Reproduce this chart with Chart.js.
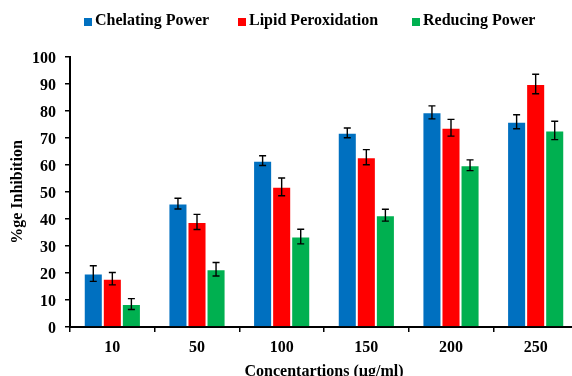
<!DOCTYPE html>
<html>
<head>
<meta charset="utf-8">
<script src="https://cdn.jsdelivr.net/npm/chart.js@4.4.0/dist/chart.umd.min.js"></script>
<style>
  html, body { margin: 0; padding: 0; background: #fff; }
  #wrap { width: 572px; height: 376px; overflow: hidden; }
</style>
</head>
<body>
<div id="wrap"><canvas id="myChart" width="580" height="390"></canvas></div>
<script>
// data
const categories = ['10', '50', '100', '150', '200', '250'];
const chelating = [19.8, 45.7, 61.6, 71.9, 79.5, 76.0];
const chelatingErr = [2.9, 2.0, 1.8, 1.8, 2.4, 2.6];
const lipid = [17.9, 38.9, 51.9, 62.9, 73.8, 90.0];
const lipidErr = [2.3, 2.8, 3.3, 2.8, 3.1, 3.6];
const reducing = [8.5, 21.4, 33.5, 41.4, 59.9, 72.8];
const reducingErr = [2.0, 2.5, 2.7, 2.2, 2.0, 3.4];

const FONT = '"Liberation Serif", "Times New Roman", serif';
Chart.defaults.font.family = FONT;
Chart.defaults.font.size = 16;
Chart.defaults.font.weight = 'bold';
Chart.defaults.color = '#000';

// error bars, drawn on top of the bars
const errorBars = {
    id: 'errorBars',
    afterDatasetsDraw(chart) {
        const ctx = chart.ctx;
        const y = chart.scales.y;
        ctx.save();
        ctx.strokeStyle = '#000';
        ctx.lineWidth = 1.4;
        chart.data.datasets.forEach((ds, i) => {
            chart.getDatasetMeta(i).data.forEach((bar, j) => {
                const top = y.getPixelForValue(ds.data[j] + ds.errors[j]);
                const bot = y.getPixelForValue(ds.data[j] - ds.errors[j]);
                ctx.beginPath();
                ctx.moveTo(bar.x, top); ctx.lineTo(bar.x, bot);
                ctx.moveTo(bar.x - 3.5, top); ctx.lineTo(bar.x + 3.5, top);
                ctx.moveTo(bar.x - 3.5, bot); ctx.lineTo(bar.x + 3.5, bot);
                ctx.stroke();
            });
        });
        ctx.restore();
    }
};

// legend row at the top, like the Excel one
const topLegend = {
    id: 'topLegend',
    afterDraw(chart) {
        const ctx = chart.ctx;
        const boxX = [84, 238, 412];
        ctx.save();
        ctx.font = 'bold 16px ' + FONT;
        ctx.textBaseline = 'middle';
        chart.data.datasets.forEach((ds, i) => {
            ctx.fillStyle = ds.backgroundColor;
            ctx.fillRect(boxX[i], 18, 8, 8);
            ctx.fillStyle = '#000';
            ctx.fillText(ds.label, boxX[i] + 11, 20.5);
        });
        ctx.restore();
    }
};

const ctx = document.getElementById('myChart');

new Chart(ctx, {
    type: 'bar',
    data: {
        labels: categories,
        datasets: [{
            label: 'Chelating Power',
            data: chelating,
            errors: chelatingErr,
            backgroundColor: '#0070C0',
            borderColor: 'rgba(255, 255, 255, 0.2)',
            borderWidth: 1
        }, {
            label: 'Lipid Peroxidation',
            data: lipid,
            errors: lipidErr,
            backgroundColor: '#FF0000',
            borderColor: 'rgba(255, 255, 255, 0.2)',
            borderWidth: 1
        }, {
            label: 'Reducing Power',
            data: reducing,
            errors: reducingErr,
            backgroundColor: '#00B050',
            borderColor: 'rgba(255, 255, 255, 0.2)',
            borderWidth: 1
        }]
    },
    options: {
        responsive: false,
        animation: false,
        layout: { padding: { top: 57, right: 2, left: 0, bottom: 0 } },
        datasets: {
            bar: { categoryPercentage: 0.675, barPercentage: 1 }
        },
        plugins: {
            legend: { display: false },
            tooltip: { enabled: false }
        },
        scales: {
            x: {
                offset: true,
                grid: {
                    offset: true,
                    drawOnChartArea: false,
                    tickLength: 5,
                    color: '#000',
                    lineWidth: 1.5
                },
                border: { color: '#000', width: 2 },
                ticks: { padding: 6 },
                title: {
                    display: true,
                    text: 'Concentartions (µg/ml)',
                    padding: { top: 0, bottom: 9 }
                },
                afterFit: (scale) => { scale.height = 63; }
            },
            y: {
                min: 0,
                max: 100,
                grid: {
                    drawOnChartArea: false,
                    tickLength: 5,
                    color: '#000',
                    lineWidth: 1.5
                },
                border: { color: '#000', width: 2 },
                ticks: { stepSize: 10, padding: 9, labelOffset: 2 },
                title: {
                    display: true,
                    text: '%ge Inhibition',
                    padding: { top: 8, bottom: 0 }
                },
                afterFit: (scale) => { scale.width = 70; }
            }
        }
    },
    plugins: [errorBars, topLegend]
});
</script>
</body>
</html>
